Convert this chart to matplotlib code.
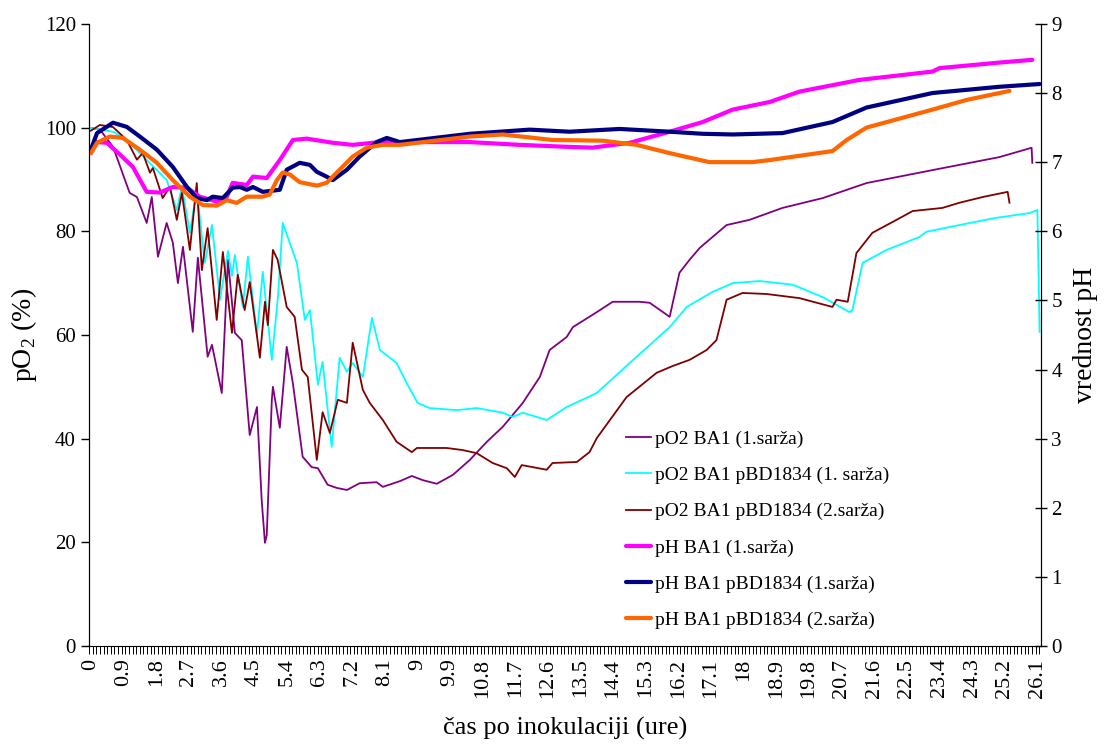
import numpy as np
import matplotlib
matplotlib.use('Agg')
import matplotlib.pyplot as plt
from matplotlib.ticker import FixedLocator, MultipleLocator

plt.rcParams['font.family'] = ['Liberation Serif', 'DejaVu Serif']
plt.rcParams['mathtext.fontset'] = 'custom'
plt.rcParams['mathtext.rm'] = 'Liberation Serif'

# pO2 BA1 (1.sarza)
t_po2_1 = [0.00, 0.25, 0.61, 0.74, 0.94, 1.07, 1.27, 1.54, 1.68, 1.85, 2.09, 2.26, 2.40, 2.54, 2.81,
           2.95, 3.22, 3.34, 3.61, 3.78, 3.97, 4.16, 4.38, 4.58, 4.71, 4.80, 4.85, 4.99, 5.02, 5.21,
           5.40, 5.57, 5.84, 6.09, 6.26, 6.53, 6.78, 7.06, 7.41, 7.88, 8.05, 8.52, 8.85, 9.15, 9.54,
           9.98, 10.45, 10.92, 11.36, 11.91, 12.38, 12.65, 13.12, 13.29, 13.95, 14.39, 15.13, 15.41,
           15.96, 16.23, 16.51, 16.79, 17.53, 18.16, 19.07, 20.18, 21.39, 23.21, 25.05, 25.94, 25.96]
po2_1 = [99.9, 99.6, 96.3, 93.8, 89.9, 87.4, 86.6, 81.6, 86.6, 75.1, 81.6, 77.8, 70.0, 77.0, 60.6,
         74.9, 55.8, 58.1, 48.8, 74.5, 60.4, 59.0, 40.7, 46.1, 28.2, 19.9, 21.4, 47.5, 50.0, 42.1,
         57.7, 50.7, 36.5, 34.5, 34.3, 31.1, 30.5, 30.1, 31.4, 31.6, 30.7, 31.8, 32.8, 32.0, 31.3,
         33.0, 35.9, 39.4, 42.3, 46.9, 51.9, 57.1, 59.6, 61.5, 64.4, 66.4, 66.4, 66.2,
         63.5, 72.0, 74.5, 76.8, 81.2, 82.2, 84.5, 86.4, 89.3, 91.8, 94.3, 96.1, 93.2]

# pO2 BA1 pBD1834 (1. sarza)
t_po2_2 = [0.00, 0.25, 0.61, 0.99, 1.35, 1.82, 2.09, 2.37, 2.51, 2.73, 2.92, 3.14, 3.34, 3.56, 3.78,
           3.89, 3.97, 4.19, 4.33, 4.58, 4.74, 4.99, 5.16, 5.29, 5.68, 5.90, 6.04, 6.26, 6.39, 6.64,
           6.86, 7.06, 7.22, 7.50, 7.75, 7.97, 8.43, 8.71, 9.01, 9.34, 10.09, 10.64, 11.36, 11.63,
           11.91, 12.57, 13.12, 13.95, 14.86, 15.96, 16.43, 17.14, 17.70, 18.44, 19.35, 20.18, 20.92,
           21.00, 21.28, 21.94, 22.85, 23.04, 23.95, 24.97, 25.88, 26.10, 26.16]
po2_2 = [99.9, 99.6, 99.2, 97.6, 95.1, 91.8, 89.9, 84.1, 88.6, 79.7, 88.0, 73.9, 81.2, 66.8, 76.2,
         71.4, 75.4, 65.4, 75.1, 60.0, 72.2, 55.2, 67.5, 81.6, 73.9, 62.9, 64.8, 50.4, 54.8, 38.4,
         55.6, 52.9, 54.6, 51.9, 63.3, 57.1, 54.6, 50.7, 46.9, 45.9, 45.5, 45.9, 45.0, 44.2,
         45.0, 43.6, 46.1, 48.8, 54.6, 61.5, 65.4, 68.3, 70.0, 70.4, 69.7, 67.3, 64.4,
         64.8, 73.9, 76.4, 78.9, 79.9, 81.2, 82.6, 83.5, 84.1, 60.6]

# pO2 BA1 pBD1834 (2.sarza)
t_po2_3 = [0.00, 0.25, 0.61, 0.99, 1.27, 1.43, 1.63, 1.71, 1.98, 2.18, 2.37, 2.51, 2.73, 2.92, 3.06,
           3.22, 3.47, 3.64, 3.89, 4.05, 4.24, 4.38, 4.66, 4.80, 4.88, 5.02, 5.15, 5.40, 5.62, 5.82,
           5.98, 6.23, 6.39, 6.59, 6.81, 7.06, 7.22, 7.50, 7.69, 8.05, 8.43, 8.85, 8.99, 9.81, 10.25,
           10.64, 11.08, 11.47, 11.69, 11.88, 12.57, 12.73, 13.40, 13.75, 13.95, 14.77, 15.60, 16.04,
           16.51, 16.98, 17.25, 17.53, 17.97, 18.63, 19.54, 20.45, 20.56, 20.87, 21.11, 21.55, 22.11,
           22.66, 23.48, 23.95, 24.59, 25.28, 25.33]
po2_3 = [99.4, 100.5, 100.1, 97.6, 93.8, 95.1, 91.3, 92.2, 86.4, 88.6, 82.2, 87.4, 76.4, 89.3, 72.5,
         80.6, 62.9, 76.0, 60.4, 71.6, 64.8, 70.2, 55.6, 66.4, 61.9, 76.4, 74.5, 65.4, 63.5, 53.3,
         51.9, 35.9, 45.1, 41.1, 47.5, 46.9, 58.5, 49.4, 46.9, 43.6, 39.4, 37.4, 38.2, 38.2, 37.8,
         37.2, 35.3, 34.3, 32.6, 34.9, 34.0, 35.3, 35.5, 37.4, 40.1, 48.0, 52.7, 54.0,
         55.2, 57.1, 59.0, 66.8, 68.1, 67.9, 67.1, 65.4, 66.8, 66.4, 75.8, 79.7, 81.8,
         83.9, 84.5, 85.5, 86.6, 87.6, 85.5]

# pH BA1 (1.sarza)
t_ph_1 = [0.00, 0.17, 0.44, 0.80, 1.16, 1.54, 1.90, 2.26, 2.65, 3.00, 3.47, 3.75, 3.91, 4.30, 4.47,
          4.85, 5.21, 5.57, 5.95, 6.67, 7.22, 7.97, 10.45, 11.82, 13.20, 13.84, 14.86, 15.96, 16.87,
          17.70, 18.72, 19.54, 21.20, 23.21, 23.40, 25.05, 25.96]
ph_1 = [7.13, 7.29, 7.28, 7.11, 6.93, 6.57, 6.56, 6.64, 6.63, 6.50, 6.43, 6.50, 6.70, 6.67, 6.79,
        6.77, 7.03, 7.32, 7.34, 7.28, 7.25, 7.29, 7.29, 7.25, 7.22, 7.21, 7.28, 7.44, 7.58,
        7.76, 7.87, 8.02, 8.19, 8.31, 8.36, 8.44, 8.48]

# pH BA1 pBD1834 (1.sarza)
t_ph_2 = [0.00, 0.17, 0.61, 0.99, 1.35, 1.82, 2.26, 2.65, 2.92, 3.20, 3.36, 3.64, 3.91, 4.11, 4.30,
          4.47, 4.74, 5.21, 5.40, 5.76, 6.04, 6.23, 6.50, 6.67, 7.06, 7.41, 7.88, 8.16, 8.52, 10.45,
          12.10, 13.20, 14.58, 15.96, 16.87, 17.70, 19.07, 20.45, 21.39, 23.21, 25.05, 26.16]
ph_2 = [7.18, 7.42, 7.57, 7.51, 7.37, 7.18, 6.93, 6.64, 6.48, 6.45, 6.50, 6.48, 6.63, 6.64, 6.60,
        6.64, 6.57, 6.60, 6.89, 6.99, 6.96, 6.86, 6.79, 6.74, 6.89, 7.08, 7.29, 7.35, 7.29, 7.41,
        7.47, 7.44, 7.48, 7.44, 7.41, 7.40, 7.42, 7.58, 7.79, 8.00, 8.09, 8.13]

# pH BA1 pBD1834 (2.sarza)
t_ph_3 = [0.00, 0.17, 0.52, 0.88, 1.35, 1.82, 2.26, 2.73, 3.09, 3.47, 3.75, 4.02, 4.30, 4.74, 4.93,
          5.13, 5.29, 5.49, 5.76, 6.23, 6.50, 6.86, 7.22, 7.61, 8.05, 8.52, 10.45, 11.36, 12.73,
          14.11, 15.05, 15.96, 17.06, 18.25, 18.72, 20.45, 20.84, 21.39, 23.21, 24.15, 25.33]
ph_3 = [7.13, 7.28, 7.37, 7.35, 7.18, 6.99, 6.74, 6.50, 6.38, 6.37, 6.45, 6.41, 6.50, 6.50, 6.53,
        6.74, 6.85, 6.82, 6.71, 6.66, 6.70, 6.89, 7.08, 7.21, 7.25, 7.25, 7.37, 7.40, 7.32,
        7.31, 7.25, 7.13, 7.00, 7.00, 7.03, 7.16, 7.32, 7.50, 7.76, 7.90, 8.03]

labels = ['pO2 BA1 (1.sarža)', 'pO2 BA1 pBD1834 (1. sarža)', 'pO2 BA1 pBD1834 (2.sarža)',
          'pH BA1 (1.sarža)', 'pH BA1 pBD1834 (1.sarža)', 'pH BA1 pBD1834 (2.sarža)']
colors = ['#800080', '#00FFFF', '#800000', '#FF00FF', '#000080', '#FF6600']

fig = plt.figure(figsize=(11.09, 7.46), dpi=100)
ax = fig.add_axes([0.0803, 0.134, 0.8584, 0.834])
ax2 = ax.twinx()

h = []
h += ax.plot(t_po2_1, po2_1, color=colors[0], lw=1.3)
h += ax.plot(t_po2_2, po2_2, color=colors[1], lw=1.3)
h += ax.plot(t_po2_3, po2_3, color=colors[2], lw=1.3)
h += ax2.plot(t_ph_1, ph_1, color=colors[3], lw=3.0, solid_capstyle='round')
h += ax2.plot(t_ph_2, ph_2, color=colors[4], lw=3.0, solid_capstyle='round')
h += ax2.plot(t_ph_3, ph_3, color=colors[5], lw=3.0, solid_capstyle='round')

ax.set_xlim(-0.05, 26.2)
ax.set_ylim(0, 120)
ax2.set_ylim(0, 9)
ax.yaxis.set_major_locator(MultipleLocator(20))
ax2.yaxis.set_major_locator(MultipleLocator(1))

# x axis: labels every 0.9 h, small tick marks between every 0.1 h step
xt = np.round(np.arange(0, 26.2, 0.9), 1)
ax.set_xticks(xt)
ax.set_xticklabels(['%g' % v for v in xt], rotation=90, fontsize=16)
ax.xaxis.set_minor_locator(FixedLocator(np.arange(-0.05, 26.2, 0.1)))
ax.tick_params(axis='x', which='major', length=0, pad=9)
ax.tick_params(axis='x', which='minor', length=6, width=0.7, direction='out')
ax.tick_params(axis='y', labelsize=15, length=6, width=1, direction='out')
ax2.tick_params(axis='y', labelsize=15, length=8, width=1, direction='inout')

for a in (ax, ax2):
    a.spines['top'].set_visible(False)
ax2.spines['bottom'].set_visible(False)

ax.set_ylabel(r'pO$_\mathrm{2}$ (%)', fontsize=20, labelpad=4)
ax2.set_ylabel('vrednost pH', fontsize=20, labelpad=8)
ax.set_xlabel('čas po inokulaciji (ure)', fontsize=19, labelpad=14)

leg = ax2.legend(h, labels, loc='upper left', bbox_to_anchor=(608 / 1109, 1 - 413 / 746),
                 bbox_transform=fig.transFigure, frameon=False, fontsize=14,
                 handlelength=1.3, handletextpad=0.2, labelspacing=0.95)

fig.savefig('out.png', dpi=100)
